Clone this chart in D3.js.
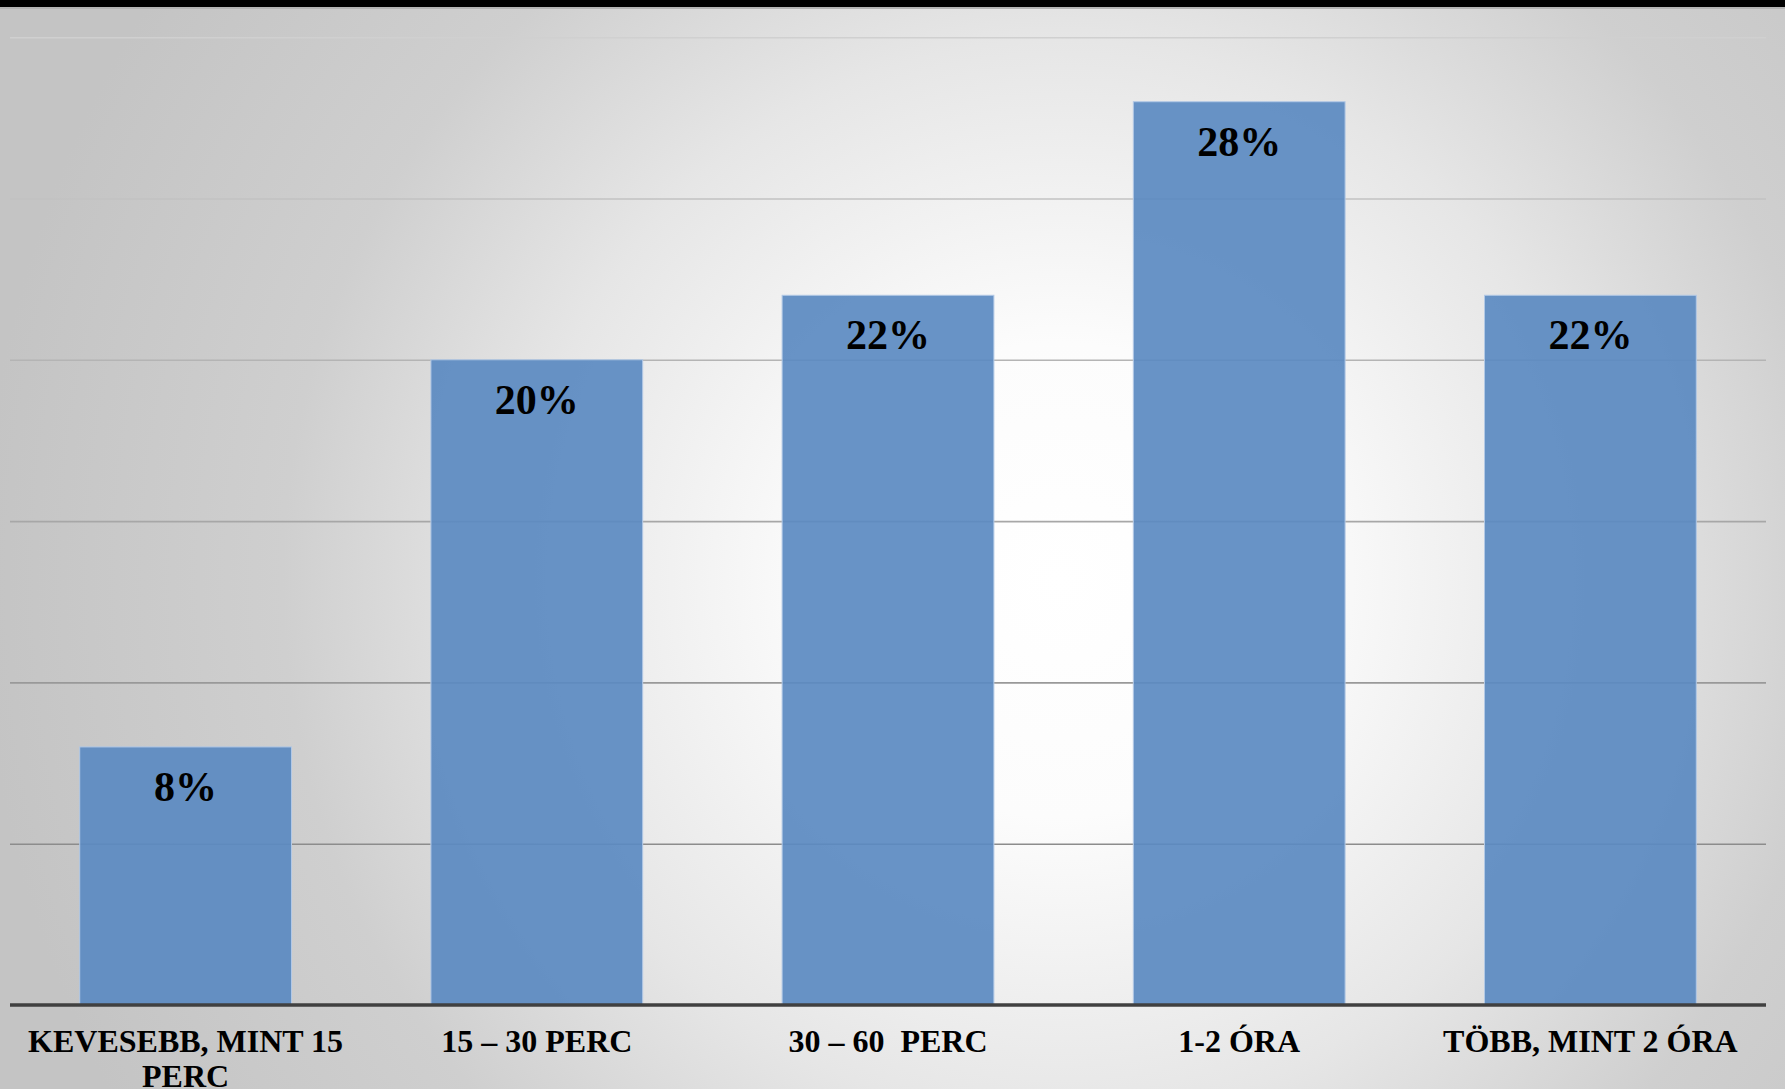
<!DOCTYPE html>
<html>
<head>
<meta charset="utf-8">
<script src="https://cdn.jsdelivr.net/npm/d3@7"></script>
<style>
  html, body { margin: 0; padding: 0; background: #fff; }
  svg { display: block; }
</style>
</head>
<body>
<div id="chart"></div>
<script>
const categories = ["KEVESEBB, MINT 15 PERC", "15 – 30 PERC", "30 – 60  PERC", "1-2 ÓRA", "TÖBB, MINT 2 ÓRA"];
const values = [8, 20, 22, 28, 22];
const valueLabels = ["8%", "20%", "22%", "28%", "22%"];
const yTicks = [5, 10, 15, 20, 25, 30];

const W = 1785, H = 1089;
const svg = d3.select("#chart").append("svg").attr("width", W).attr("height", H);
const defs = svg.append("defs");

const bg = defs.append("radialGradient").attr("id", "bg")
  .attr("gradientUnits", "userSpaceOnUse")
  .attr("cx", 1060).attr("cy", 580).attr("r", 1080);
[[0, "#ffffff"], [0.22, "#fcfcfc"], [0.5, "#e6e6e6"], [0.72, "#cfcfcf"], [1, "#c4c4c4"]]
  .forEach(([o, c]) => bg.append("stop").attr("offset", o).attr("stop-color", c));

svg.append("rect").attr("width", W).attr("height", H).attr("fill", "url(#bg)");
svg.append("rect").attr("x", 0).attr("y", 0).attr("width", W).attr("height", 7).attr("fill", "#000");
svg.append("rect").attr("x", 0).attr("y", 7).attr("width", W).attr("height", 2).attr("fill", "#b4b4b4");

const x = d3.scaleBand().domain(categories).range([10, 1766]).paddingInner(0.397).paddingOuter(0.1985);
const y = d3.scaleLinear().domain([0, 30]).range([1005, 37.2]);
const gridColor = d3.scaleLinear().domain([30, 20, 5]).range(["#d0d0d0", "#b4b4b4", "#8c8c8c"]);

// gridlines
const grid = svg.append("g").attr("class", "grid")
  .attr("transform", "translate(10,0)")
  .call(d3.axisLeft(y).tickValues(yTicks).tickSize(-(1766 - 10)).tickFormat(""));
grid.select(".domain").remove();
grid.selectAll(".tick line").attr("stroke", d => gridColor(d)).attr("stroke-width", 1.6);

// bars
svg.append("g").selectAll("rect").data(values).join("rect")
  .attr("x", (d, i) => x(categories[i]))
  .attr("y", d => y(d))
  .attr("width", x.bandwidth())
  .attr("height", d => y(0) - y(d))
  .attr("fill", "#5b8ac1")
  .attr("fill-opacity", 0.92)
  .attr("stroke", "#b3c9e6")
  .attr("stroke-width", 1);

// value labels
svg.append("g").selectAll("text").data(values).join("text")
  .attr("x", (d, i) => x(categories[i]) + x.bandwidth() / 2)
  .attr("y", d => y(d) + 54)
  .attr("text-anchor", "middle")
  .attr("font-family", "Liberation Serif, Times New Roman, serif")
  .attr("font-weight", "bold")
  .attr("font-size", 42)
  .attr("fill", "#000")
  .text((d, i) => valueLabels[i]);

// baseline axis
const xAxis = svg.append("g").attr("transform", `translate(0,${y(0)})`)
  .call(d3.axisBottom(x).tickSize(0).tickFormat(""));
xAxis.select(".domain").attr("stroke", "#404040").attr("stroke-width", 3.5)
  .attr("d", "M10,0H1766");

// category labels with wrapping
const catG = svg.append("g");
categories.forEach((c, i) => {
  const cx = x(c) + x.bandwidth() / 2;
  const t = catG.append("text")
    .attr("x", cx)
    .attr("y", 1052)
    .attr("text-anchor", "middle")
    .attr("font-family", "Liberation Serif, Times New Roman, serif")
    .attr("font-weight", "bold")
    .attr("font-size", 32)
    .attr("fill", "#000")
    .style("white-space", "pre");
  const words = c.split(" ");
  let line = [];
  let tspan = t.append("tspan").attr("x", cx).attr("dy", 0);
  const maxW = 340;
  for (let k = 0; k < words.length; k++) {
    line.push(words[k]);
    tspan.text(line.join(" "));
    if (tspan.node().getComputedTextLength() > maxW && line.length > 1) {
      line.pop();
      tspan.text(line.join(" "));
      line = [words[k]];
      tspan = t.append("tspan").attr("x", cx).attr("dy", 35).text(words[k]);
    }
  }
});
</script>
</body>
</html>
